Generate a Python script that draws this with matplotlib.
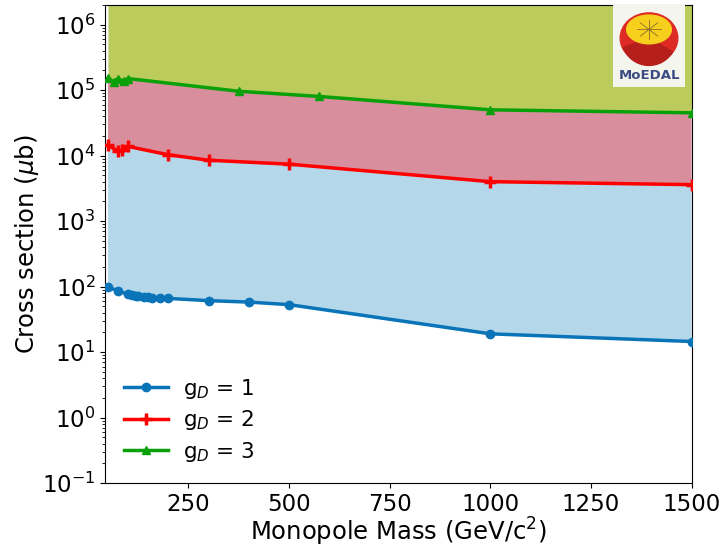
import numpy as np
import matplotlib
matplotlib.use("Agg")
import matplotlib.pyplot as plt
from matplotlib.patches import Ellipse, Wedge

# g_D = 1
mass1 = [50, 75, 100, 110, 120, 125, 140, 150, 160, 180, 200, 300, 400, 500, 1000, 1500]
xsec1 = [98, 86, 76, 74, 73, 71, 70, 69, 68, 67, 66, 61, 58, 53, 19, 14.5]
# g_D = 2
mass2 = [50, 75, 85, 100, 200, 300, 500, 1000, 1500]
xsec2 = [14300, 11800, 12000, 13800, 10300, 8500, 7400, 4000, 3600]
# g_D = 3
mass3 = [50, 65, 75, 90, 100, 375, 575, 1000, 1500]
xsec3 = [152000, 133000, 150000, 136000, 150000, 96000, 80000, 50000, 45000]

labels = [r"g$_D$ = 1", r"g$_D$ = 2", r"g$_D$ = 3"]
ytop = 2e6

plt.rcParams["font.size"] = 17.5
fig = plt.figure(figsize=(7.25, 5.44), dpi=100)
ax = fig.add_axes([0.145, 0.112, 0.81, 0.879])

# shaded bands
ax.fill(np.concatenate([mass1, mass2[::-1]]),
        np.concatenate([xsec1, xsec2[::-1]]),
        color="#b4d7e9", lw=0, zorder=1)
ax.fill(np.concatenate([mass2, mass3[::-1]]),
        np.concatenate([xsec2, xsec3[::-1]]),
        color="#d98e9e", lw=0, zorder=1)
ax.fill_between(mass3, xsec3, ytop, color="#bbcb5c", lw=0, zorder=1)

ax.plot(mass1, xsec1, "-o", color="#0a74b8", lw=2.5, ms=6, label=labels[0], zorder=3)
ax.plot(mass2, xsec2, "-+", color="#ff0000", lw=2.5, ms=9, mew=2.5, label=labels[1], zorder=3)
ax.plot(mass3, xsec3, "-^", color="#0aa00a", lw=2.5, ms=6, label=labels[2], zorder=3)

ax.set_yscale("log")
ax.set_ylim(0.1, ytop)
ax.set_xlim(43, 1502)
ax.set_xticks([250, 500, 750, 1000, 1250, 1500])
ax.tick_params(labelsize=16.5)
ax.set_xlabel(r"Monopole Mass (GeV/c$^2$)", labelpad=0)
ax.set_ylabel(r"Cross section ($\mu$b)", labelpad=1)
ax.legend(loc="lower left", frameon=False, bbox_to_anchor=(0.0, 0.0),
          handlelength=2.0, handletextpad=0.7, labelspacing=0.35, fontsize=15.5)

# MoEDAL logo stand-in
lax = fig.add_axes([613 / 725, 1 - 87 / 544, 72 / 725, 82 / 544])
lax.set_xlim(0, 1)
lax.set_ylim(0, 1.14)
lax.axis("off")
lax.add_patch(plt.Rectangle((0, 0), 1, 1.14, color="#f4f6ee", zorder=0))
lax.add_patch(Ellipse((0.5, 0.68), 0.8, 0.7, color="#de2a24", zorder=1))
lax.add_patch(Wedge((0.5, 0.68), 0.38, 200, 330, color="#b71f1c", zorder=2))
lax.add_patch(Ellipse((0.5, 0.8), 0.62, 0.4, color="#f6d01c", zorder=3))
for a in np.linspace(0, 2 * np.pi, 8, endpoint=False):
    lax.plot([0.5, 0.5 + 0.17 * np.cos(a)], [0.8, 0.8 + 0.13 * np.sin(a)],
             color="#8a6b2a", lw=0.6, zorder=4)
lax.text(0.5, 0.16, "MoEDAL", ha="center", va="center", fontsize=9.5,
         fontweight="bold", color="#3b4a80")

fig.savefig("out.png", dpi=100)
